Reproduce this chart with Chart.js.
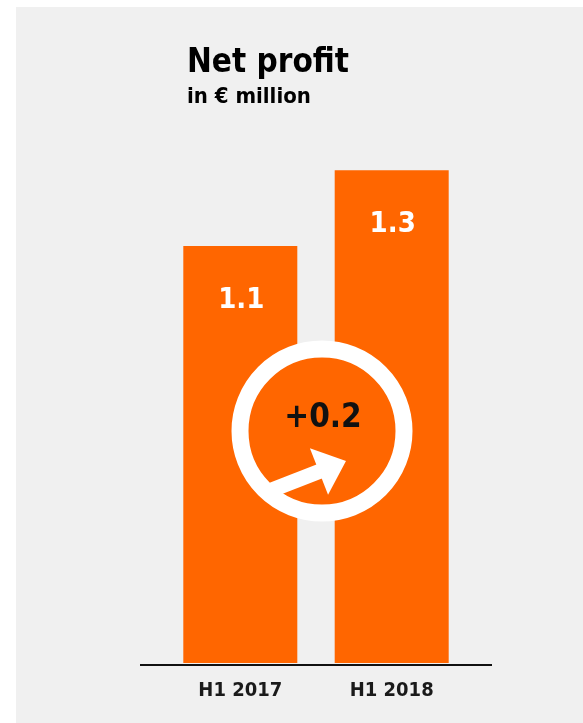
<!DOCTYPE html>
<html>
<head>
<meta charset="utf-8">
<script src="https://cdn.jsdelivr.net/npm/chart.js@4/dist/chart.umd.min.js"></script>
<style>
  html, body { margin: 0; padding: 0; background: #fff; }
  .panel {
    position: absolute; left: 16px; top: 7px;
    width: 567px; height: 716px;
    background: #f0f0f0; overflow: hidden;
  }
  .panel canvas { position: absolute; left: 0; top: 0; }
  .title, .subtitle {
    position: absolute; left: 171px; white-space: nowrap; color: #000;
    font-family: 'DejaVu Sans Condensed', 'DejaVu Sans', sans-serif;
    font-weight: bold; line-height: 1;
  }
  .title { top: 37px; font-size: 33px; }
  .subtitle { top: 78px; font-size: 22px; }
</style>
</head>
<body>
<div class="panel">
  <canvas id="profitChart" width="567" height="716"></canvas>
  <div class="title">Net profit</div>
  <div class="subtitle">in € million</div>
</div>

<script>
// =============================================================================
// DATA
// =============================================================================
const categories = ["H1 2017", "H1 2018"];
const netProfit = [1.1, 1.3];
const valueLabels = ["1.1", "1.3"];
const changeLabel = "+0.2";

const FONT = "'DejaVu Sans Condensed', 'DejaVu Sans', sans-serif";
const ORANGE = "#ff6600";

// =============================================================================
// PLUGINS
// =============================================================================
const baselinePlugin = {
  id: "baseline",
  afterDraw(chart) {
    const { ctx, chartArea } = chart;
    ctx.save();
    ctx.strokeStyle = "#111";
    ctx.lineWidth = 2;
    ctx.beginPath();
    ctx.moveTo(chartArea.left - 24.6, chartArea.bottom + 2);
    ctx.lineTo(chartArea.right + 24.6, chartArea.bottom + 2);
    ctx.stroke();
    ctx.restore();
  }
};

const labelsPlugin = {
  id: "valueLabels",
  afterDatasetsDraw(chart) {
    const { ctx } = chart;
    const bars = chart.getDatasetMeta(0).data;

    ctx.save();
    ctx.fillStyle = "#fff";
    ctx.font = `bold 29px ${FONT}`;
    ctx.textAlign = "center";
    ctx.textBaseline = "alphabetic";
    bars.forEach((bar, i) => {
      ctx.fillText(valueLabels[i], bar.x + 1, bar.y + 62);
    });
    ctx.restore();
  }
};

// circle with the change and arrow, between the two bars
const changePlugin = {
  id: "changeBadge",
  afterDatasetsDraw(chart) {
    const { ctx } = chart;
    const bars = chart.getDatasetMeta(0).data;
    const yScale = chart.scales.y;

    const cx = (bars[0].x + bars[1].x) / 2 + 6;
    const cy = yScale.getPixelForValue(0.612);

    ctx.save();
    // ring
    ctx.beginPath();
    ctx.arc(cx, cy, 82, 0, Math.PI * 2);
    ctx.fillStyle = ORANGE;
    ctx.fill();
    ctx.lineWidth = 17;
    ctx.strokeStyle = "#fff";
    ctx.stroke();

    // change text
    ctx.fillStyle = "#111";
    ctx.font = `bold 33px ${FONT}`;
    ctx.textAlign = "center";
    ctx.textBaseline = "alphabetic";
    ctx.fillText(changeLabel, cx + 1, cy - 4);

    // arrow
    ctx.translate(cx + 24, cy + 30);
    ctx.rotate(Math.atan2(-30, 77));
    ctx.fillStyle = "#fff";
    ctx.beginPath();
    ctx.moveTo(0, 0);
    ctx.lineTo(-29, -25);
    ctx.lineTo(-29, 25);
    ctx.closePath();
    ctx.fill();
    ctx.fillRect(-88, -7.5, 62, 15);
    ctx.restore();
  }
};

// =============================================================================
// CHART
// =============================================================================
new Chart(document.getElementById("profitChart").getContext("2d"), {
  type: "bar",
  data: {
    labels: categories,
    datasets: [{
      data: netProfit,
      backgroundColor: ORANGE,
      borderWidth: 0,
      barPercentage: 0.753,
      categoryPercentage: 1
    }]
  },
  options: {
    responsive: false,
    animation: false,
    layout: {
      padding: { left: 148.6, right: 115.6, top: 125.3, bottom: 4 }
    },
    plugins: {
      legend: { display: false },
      tooltip: { enabled: false }
    },
    scales: {
      x: {
        grid: { display: false, drawTicks: false },
        border: { display: false },
        ticks: {
          color: "#1a1a1a",
          padding: 16,
          font: { family: FONT, size: 20, weight: "bold" }
        }
      },
      y: {
        display: false,
        min: 0,
        max: 1.4
      }
    }
  },
  plugins: [baselinePlugin, labelsPlugin, changePlugin]
});
</script>
</body>
</html>
